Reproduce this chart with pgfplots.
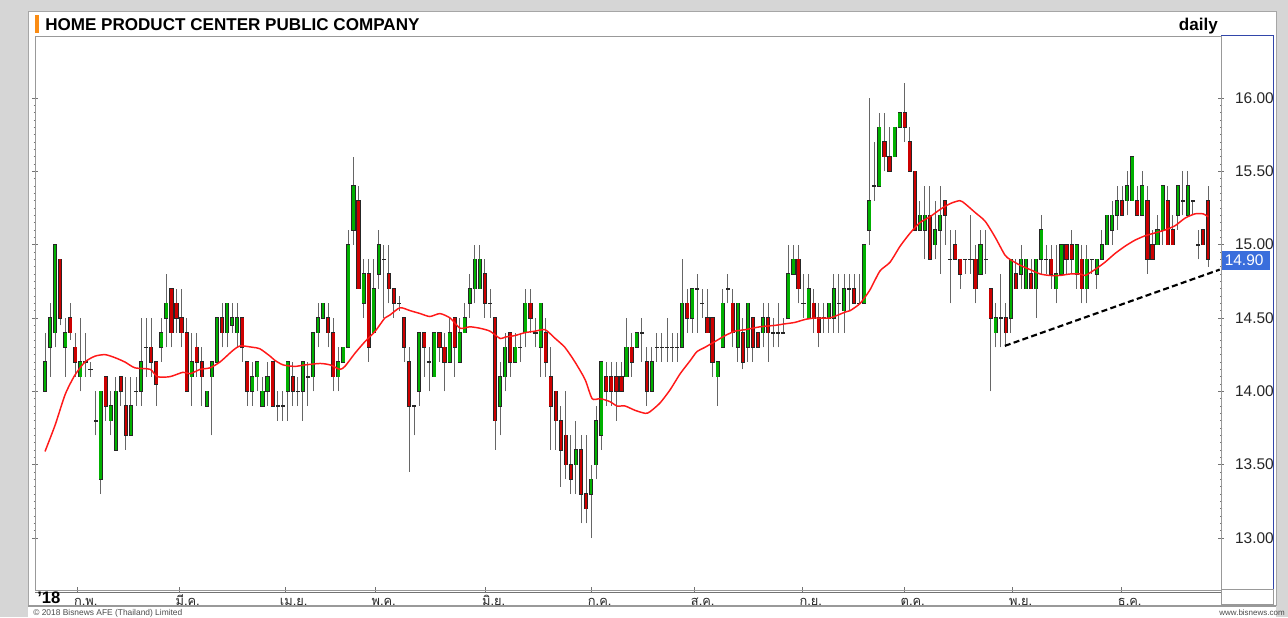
\documentclass[border=0pt]{standalone}
\usepackage{fontspec}
\setmainfont{Liberation Sans}
\newfontfamily\thaifont[Script=Thai]{Loma}
\usepackage{pgfplots}
\usepackage{pgfplotstable}
\pgfplotsset{compat=1.18}
\definecolor{cgreen}{RGB}{0,176,0}
\definecolor{cred}{RGB}{204,0,0}
\definecolor{bgray}{RGB}{214,214,214}
\definecolor{macol}{RGB}{255,25,25}
\definecolor{tagblue}{RGB}{58,110,220}
\definecolor{stripblue}{RGB}{50,70,170}
\definecolor{stripyel}{RGB}{240,225,160}
\definecolor{hborange}{RGB}{250,140,20}

\pgfplotstableread{
i O H L C
0 14.0 14.4 14.0 14.2
1 14.3 14.6 14.1 14.5
2 14.4 15.0 14.3 15.0
3 14.9 14.9 14.45 14.5
4 14.3 14.5 14.1 14.4
5 14.5 14.6 14.35 14.4
6 14.3 14.4 14.1 14.2
7 14.1 14.5 14.0 14.2
8 14.2 14.4 14.1 14.2
9 14.15 14.2 14.1 14.15
10 13.8 14.0 13.7 13.8
11 13.4 14.0 13.3 14.0
12 14.1 14.1 13.8 13.9
13 13.8 14.0 13.7 13.9
14 13.6 14.1 13.6 14.0
15 14.1 14.1 13.9 14.0
16 13.9 14.1 13.6 13.7
17 13.7 14.1 13.7 13.9
18 14.0 14.1 13.9 14.0
19 14.0 14.5 13.9 14.2
20 14.3 14.5 14.1 14.3
21 14.3 14.5 14.1 14.2
22 14.2 14.2 13.9 14.05
23 14.3 14.5 14.2 14.4
24 14.5 14.8 14.3 14.6
25 14.7 14.7 14.3 14.4
26 14.6 14.7 14.4 14.5
27 14.5 14.7 14.3 14.4
28 14.4 14.5 14.0 14.0
29 14.1 14.4 13.9 14.2
30 14.3 14.4 14.1 14.2
31 14.2 14.3 13.9 14.1
32 13.9 14.0 13.9 14.0
33 14.1 14.2 13.7 14.2
34 14.2 14.5 14.2 14.5
35 14.5 14.6 14.3 14.4
36 14.4 14.6 14.3 14.6
37 14.45 14.6 14.4 14.5
38 14.4 14.6 14.3 14.5
39 14.5 14.5 14.2 14.3
40 14.2 14.2 13.9 14.0
41 14.0 14.2 13.9 14.1
42 14.1 14.2 14.0 14.2
43 13.9 14.1 13.9 14.0
44 14.0 14.2 13.9 14.1
45 14.2 14.2 13.9 13.9
46 13.9 14.0 13.8 13.9
47 13.9 14.0 13.8 13.9
48 14.0 14.2 13.8 14.2
49 14.1 14.2 13.9 14.0
50 14.0 14.1 13.9 14.0
51 14.0 14.2 13.8 14.2
52 14.1 14.2 13.9 14.1
53 14.1 14.4 14.0 14.4
54 14.4 14.6 14.3 14.5
55 14.5 14.6 14.5 14.6
56 14.5 14.6 14.3 14.4
57 14.4 14.5 14.0 14.1
58 14.1 14.3 14.0 14.2
59 14.2 14.3 14.2 14.3
60 14.3 15.1 14.3 15.0
61 15.1 15.6 15.0 15.4
62 15.3 15.4 14.7 14.7
63 14.6 14.9 14.5 14.8
64 14.8 14.9 14.2 14.3
65 14.4 14.9 14.4 14.7
66 14.8 15.1 14.7 15.0
67 14.9 15.0 14.5 14.9
68 14.8 15.0 14.6 14.7
69 14.7 14.7 14.5 14.6
70 14.6 14.65 14.55 14.6
71 14.5 14.5 14.2 14.3
72 14.2 14.3 13.45 13.9
73 13.9 13.9 13.7 13.9
74 14.0 14.4 13.9 14.4
75 14.4 14.4 14.1 14.3
76 14.2 14.3 14.0 14.2
77 14.1 14.4 14.1 14.4
78 14.4 14.4 14.2 14.3
79 14.3 14.4 14.0 14.2
80 14.2 14.5 14.2 14.4
81 14.5 14.5 14.1 14.3
82 14.2 14.5 14.2 14.4
83 14.4 14.6 14.4 14.5
84 14.6 14.8 14.5 14.7
85 14.7 15.0 14.6 14.9
86 14.7 15.0 14.7 14.9
87 14.8 14.9 14.5 14.6
88 14.6 14.7 14.5 14.6
89 14.5 14.5 13.6 13.8
90 13.9 14.2 13.7 14.1
91 14.1 14.4 14.0 14.3
92 14.4 14.4 14.1 14.2
93 14.2 14.4 14.2 14.3
94 14.3 14.4 14.2 14.3
95 14.4 14.7 14.3 14.6
96 14.6 14.7 14.4 14.5
97 14.4 14.5 14.3 14.4
98 14.3 14.6 14.1 14.6
99 14.4 14.5 14.1 14.2
100 14.1 14.3 13.6 13.9
101 14.0 14.0 13.6 13.8
102 13.8 13.9 13.35 13.6
103 13.7 14.0 13.4 13.5
104 13.5 13.7 13.3 13.4
105 13.5 13.8 13.3 13.6
106 13.6 13.7 13.1 13.3
107 13.3 13.7 13.1 13.2
108 13.3 13.5 13.0 13.4
109 13.5 13.9 13.4 13.8
110 13.7 14.2 13.6 14.2
111 14.1 14.2 13.9 14.0
112 14.1 14.2 13.9 14.0
113 14.1 14.2 13.8 14.0
114 14.1 14.2 14.0 14.0
115 14.1 14.5 14.1 14.3
116 14.3 14.4 14.1 14.2
117 14.3 14.4 14.3 14.4
118 14.4 14.5 14.2 14.4
119 14.2 14.3 13.9 14.0
120 14.0 14.3 14.0 14.2
121 14.3 14.4 14.2 14.3
122 14.3 14.4 14.2 14.3
123 14.3 14.5 14.2 14.3
124 14.3 14.4 14.2 14.3
125 14.3 14.4 14.2 14.3
126 14.3 14.9 14.3 14.6
127 14.6 14.7 14.4 14.5
128 14.5 14.7 14.4 14.7
129 14.7 14.8 14.4 14.7
130 14.6 14.7 14.5 14.6
131 14.5 14.7 14.4 14.4
132 14.5 14.5 14.1 14.2
133 14.1 14.2 13.9 14.2
134 14.3 14.7 14.3 14.6
135 14.7 14.8 14.6 14.7
136 14.6 14.7 14.3 14.4
137 14.3 14.6 14.2 14.6
138 14.4 14.5 14.15 14.2
139 14.3 14.6 14.2 14.6
140 14.5 14.5 14.2 14.3
141 14.4 14.4 14.3 14.3
142 14.4 14.6 14.3 14.5
143 14.5 14.6 14.2 14.4
144 14.4 14.5 14.3 14.4
145 14.4 14.6 14.3 14.4
146 14.4 14.5 14.4 14.4
147 14.5 15.0 14.5 14.8
148 14.8 15.0 14.8 14.9
149 14.9 15.0 14.6 14.7
150 14.6 14.8 14.5 14.6
151 14.5 14.8 14.5 14.7
152 14.6 14.7 14.4 14.5
153 14.5 14.6 14.3 14.4
154 14.5 14.6 14.4 14.5
155 14.5 14.6 14.4 14.6
156 14.5 14.8 14.4 14.7
157 14.6 14.8 14.4 14.6
158 14.55 14.8 14.4 14.7
159 14.7 14.8 14.55 14.7
160 14.7 14.8 14.6 14.6
161 14.6 14.8 14.6 14.6
162 14.6 15.0 14.6 15.0
163 15.1 16.0 15.0 15.3
164 15.4 15.7 15.3 15.4
165 15.4 15.9 15.4 15.8
166 15.7 15.9 15.5 15.6
167 15.6 15.8 15.5 15.5
168 15.6 15.8 15.6 15.8
169 15.8 15.9 15.8 15.9
170 15.9 16.1 15.7 15.8
171 15.7 15.8 15.5 15.5
172 15.5 15.5 15.1 15.1
173 15.1 15.3 15.1 15.2
174 15.1 15.4 14.9 15.2
175 15.2 15.4 14.9 14.9
176 15.0 15.3 14.9 15.1
177 15.1 15.4 14.8 15.2
178 15.3 15.3 15.0 15.2
179 14.9 15.1 14.6 14.9
180 15.0 15.1 14.9 14.9
181 14.9 14.9 14.7 14.8
182 14.9 14.9 14.8 14.9
183 14.9 15.2 14.8 14.9
184 14.9 15.0 14.6 14.7
185 14.8 15.1 14.8 15.0
186 14.9 15.1 14.8 14.9
187 14.7 14.7 14.0 14.5
188 14.4 14.6 14.3 14.5
189 14.5 14.8 14.3 14.5
190 14.5 14.6 14.3 14.4
191 14.5 14.9 14.4 14.9
192 14.8 14.9 14.7 14.7
193 14.8 15.0 14.7 14.9
194 14.7 14.9 14.7 14.9
195 14.8 14.9 14.7 14.7
196 14.7 14.9 14.5 14.9
197 14.9 15.2 14.8 15.1
198 14.9 15.0 14.8 14.9
199 14.9 15.0 14.7 14.8
200 14.7 15.0 14.6 14.8
201 14.8 15.0 14.8 15.0
202 15.0 15.0 14.8 14.9
203 15.0 15.1 14.8 14.9
204 14.8 15.0 14.7 15.0
205 14.9 15.0 14.6 14.7
206 14.7 15.0 14.6 14.9
207 14.9 14.9 14.8 14.9
208 14.8 14.9 14.7 14.9
209 14.9 15.1 14.9 15.0
210 15.0 15.2 15.0 15.2
211 15.1 15.3 15.0 15.2
212 15.2 15.4 15.1 15.3
213 15.3 15.4 15.2 15.2
214 15.3 15.5 15.2 15.4
215 15.3 15.6 15.3 15.6
216 15.3 15.4 15.2 15.2
217 15.2 15.5 15.2 15.4
218 15.3 15.4 14.8 14.9
219 15.0 15.1 14.9 14.9
220 15.0 15.2 15.0 15.1
221 15.1 15.4 15.0 15.4
222 15.3 15.4 15.0 15.0
223 15.1 15.2 15.0 15.0
224 15.2 15.4 15.1 15.4
225 15.3 15.5 15.2 15.3
226 15.2 15.5 15.2 15.4
227 15.3 15.3 15.2 15.3
228 15.0 15.1 14.9 15.0
229 15.1 15.1 15.0 15.0
230 15.3 15.4 14.85 14.9
}\candles

\pgfplotstableread{
i m
0 13.59
2.0 13.77
4.0 13.98
5.9 14.11
7.9 14.20
9.9 14.24
11.9 14.25
13.8 14.23
15.8 14.20
17.8 14.16
20.8 14.15
22.2 14.10
24.7 14.10
27.3 14.13
28.7 14.12
30.7 14.15
32.6 14.16
34.6 14.20
37.2 14.28
38.6 14.31
41.1 14.30
42.5 14.29
44.5 14.24
45.5 14.21
47.1 14.18
49.4 14.17
51.4 14.18
54.4 14.19
56.4 14.18
58.3 14.15
59.3 14.17
61.3 14.26
63.3 14.34
65.3 14.41
67.2 14.50
68.2 14.52
70.2 14.57
72.2 14.55
74.2 14.53
76.1 14.51
78.1 14.53
80.1 14.50
82.1 14.43
84.0 14.44
86.0 14.43
88.0 14.41
90.0 14.36
91.0 14.37
92.9 14.38
94.9 14.40
96.9 14.41
98.9 14.42
100.9 14.36
102.8 14.30
104.8 14.20
106.8 14.08
108.2 13.95
109.8 13.95
111.7 13.93
113.1 13.90
114.7 13.90
116.7 13.87
118.7 13.85
119.6 13.86
121.6 13.92
123.6 14.01
125.6 14.12
127.6 14.21
128.9 14.27
130.5 14.30
132.5 14.34
134.5 14.38
136.4 14.41
138.4 14.42
141.4 14.44
144.4 14.45
146.3 14.46
148.3 14.47
150.3 14.49
152.3 14.50
155.2 14.50
158.2 14.54
159.2 14.55
161.2 14.60
163.1 14.69
165.1 14.82
167.1 14.88
169.1 14.99
171.1 15.08
173.0 15.15
175.0 15.19
177.0 15.24
179.0 15.28
180.9 15.30
181.9 15.28
183.9 15.22
185.9 15.16
187.9 15.05
189.8 14.93
190.8 14.90
192.8 14.86
194.8 14.83
196.8 14.80
198.7 14.79
200.7 14.79
202.7 14.80
204.7 14.80
205.7 14.79
207.6 14.83
209.6 14.88
211.6 14.94
213.6 14.99
215.5 15.03
217.5 15.06
219.5 15.08
221.5 15.10
223.5 15.13
225.4 15.18
227.4 15.21
229.0 15.21
230.0 15.19
}\maline

\begin{document}
\begin{tikzpicture}
\begin{scope}[x=0.75pt,y=-0.75pt,shift={(-26.25pt,442.5pt)}]
\useasboundingbox (0,0) rectangle (1288,617);
\fill[bgray] (0,0) rectangle (1288,617);
\fill[white] (28,12) rectangle (1276,617);
\draw[black!35, line width=0.75pt] (28,12) rectangle (1276,606);
% price strip
\draw[stripblue, line width=0.75pt] (1221,36) rectangle (1273,590);
\draw[stripyel, line width=0.75pt] (1221,36) -- (1221,590);
\draw[black!40, line width=0.75pt] (1221,590) rectangle (1273,605);
\end{scope}

\begin{axis}[
  at={(0pt,0pt)}, anchor=south west,
  scale only axis, width=889.5pt, height=415.5pt,
  xmin=-1.98, xmax=232.55, ymin=12.6455, ymax=16.4227,
  axis line style={draw=black!40, line width=0.6pt},
  xtick={6.33,26.50,47.46,65.26,87.01,107.97,128.34,149.70,169.87,191.22,212.78},
  xticklabels={ก.พ.,มี.ค.,เม.ย.,พ.ค.,มิ.ย.,ก.ค.,ส.ค.,ก.ย.,ต.ค.,พ.ย.,ธ.ค.},
  xtick pos=left,
  xticklabel style={font=\thaifont\fontsize{9.6}{11}\selectfont, text=black!85, anchor=base, yshift=-9.3pt, xshift=6.5pt},
  ytick={13,13.5,14,14.5,15,15.5,16},
  yticklabels={13.00,13.50,14.00,14.50,15.00,15.50,16.00},
  minor y tick num=9,
  ytick pos=both, yticklabel pos=right,
  tick align=center,
  major tick length=4pt, minor tick length=2.2pt,
  tick style={draw=black!55, line width=0.5pt},
  yticklabel style={font=\fontsize{11.6}{13}\selectfont, text=black!85, anchor=west, xshift=5pt},
]
% wicks
\addplot[draw=none, forget plot,
  error bars/.cd, y dir=plus, y explicit, error mark=none,
  error bar style={draw=black!60, line width=0.75pt, solid}]
  table[x=i, y=L, y error expr=\thisrow{H}-\thisrow{L}] {\candles};
% body outlines
\addplot[draw=none, forget plot,
  error bars/.cd, y dir=both, y explicit, error mark=none,
  error bar style={draw=black!85, line width=3.1pt, solid}]
  table[x=i, y expr=(\thisrow{O}+\thisrow{C})/2, y error expr=abs(\thisrow{C}-\thisrow{O})/2+0.004] {\candles};
% green bodies
\addplot[draw=none, forget plot,
  restrict expr to domain={\thisrow{C}-\thisrow{O}}{0.001:10},
  error bars/.cd, y dir=both, y explicit, error mark=none,
  error bar style={draw=cgreen, line width=1.9pt, solid}]
  table[x=i, y expr=(\thisrow{O}+\thisrow{C})/2, y error expr=abs(\thisrow{C}-\thisrow{O})/2] {\candles};
% red bodies
\addplot[draw=none, forget plot,
  restrict expr to domain={\thisrow{O}-\thisrow{C}}{0.001:10},
  error bars/.cd, y dir=both, y explicit, error mark=none,
  error bar style={draw=cred, line width=1.9pt, solid}]
  table[x=i, y expr=(\thisrow{O}+\thisrow{C})/2, y error expr=abs(\thisrow{C}-\thisrow{O})/2] {\candles};
% moving average
\addplot[color=macol, line width=1.1pt, smooth, tension=0.4] table[x=i, y=m] {\maline};
% trend line
\addplot[black, line width=1.6pt, dash pattern=on 4.5pt off 2.5pt] coordinates {(189.8,14.31) (232.3,14.83)};
\end{axis}

\begin{scope}[x=0.75pt,y=-0.75pt,shift={(-26.25pt,442.5pt)}]
\draw[black!55, line width=0.75pt] (35,592.5) -- (1221,592.5);
\draw[black!40, line width=1.5pt] (28,606) -- (1276,606);
\fill[hborange] (35,15) rectangle (38.5,33);
\node[anchor=base west, inner sep=0pt, font=\bfseries\fontsize{12.8}{14}\selectfont] at (45,31) {HOME PRODUCT CENTER PUBLIC COMPANY};
\node[anchor=base east, inner sep=0pt, font=\bfseries\fontsize{12.8}{14}\selectfont] at (1218,31) {daily};
\node[anchor=base west, inner sep=0pt, font=\bfseries\fontsize{12.5}{14}\selectfont] at (37,604) {'18};
\fill[tagblue] (1222,251) rectangle (1270,270);
\node[anchor=west, inner sep=0pt, text=white, font=\fontsize{11.6}{13}\selectfont] at (1224.5,260.5) {14.90};
\node[anchor=base west, inner sep=0pt, text=black!70, font=\fontsize{6.3}{7}\selectfont] at (33,616) {© 2018 Bisnews AFE (Thailand) Limited};
\node[anchor=base east, inner sep=0pt, text=black!70, font=\fontsize{6}{7}\selectfont] at (1285,616) {www.bisnews.com};
\end{scope}
\end{tikzpicture}
\end{document}
